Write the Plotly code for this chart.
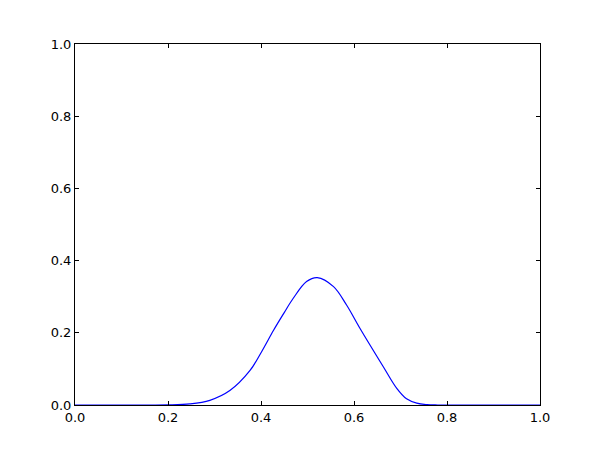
import plotly.graph_objects as go

x_vals = [0.0, 0.15, 0.2, 0.247, 0.29, 0.333, 0.376, 0.401, 0.427, 0.45, 0.469,
          0.498, 0.521, 0.556, 0.584, 0.613, 0.663, 0.692, 0.713, 0.735,
          0.757, 0.78, 0.9, 1.0]
y_vals = [0.0, 0.0, 0.0003, 0.003, 0.013, 0.040, 0.095, 0.147, 0.207, 0.256, 0.295,
          0.342, 0.353, 0.328, 0.277, 0.212, 0.106, 0.046, 0.017, 0.005,
          0.001, 0.0, 0.0, 0.0]
tick_vals = [0.0, 0.2, 0.4, 0.6, 0.8, 1.0]
tick_text = ["0.0", "0.2", "0.4", "0.6", "0.8", "1.0"]

fig = go.Figure()
fig.add_trace(go.Scatter(x=x_vals, y=y_vals, mode="lines",
                         line=dict(color="#0000ff", width=1.2, shape="spline", smoothing=1.0),
                         hoverinfo="skip"))

axis_common = dict(range=[0, 1], tickvals=tick_vals, ticktext=tick_text,
                   showgrid=False, zeroline=False, showline=True, linecolor="black",
                   linewidth=1, mirror="ticks", ticks="inside", ticklen=4,
                   tickcolor="black", tickwidth=1,
                   tickfont=dict(family="DejaVu Sans", size=13, color="black"))

fig.update_layout(width=592, height=442,
                  margin=dict(l=67, r=60, t=36, b=45),
                  paper_bgcolor="white", plot_bgcolor="white",
                  showlegend=False,
                  xaxis=axis_common, yaxis=axis_common)

fig.write_html("out.html")
